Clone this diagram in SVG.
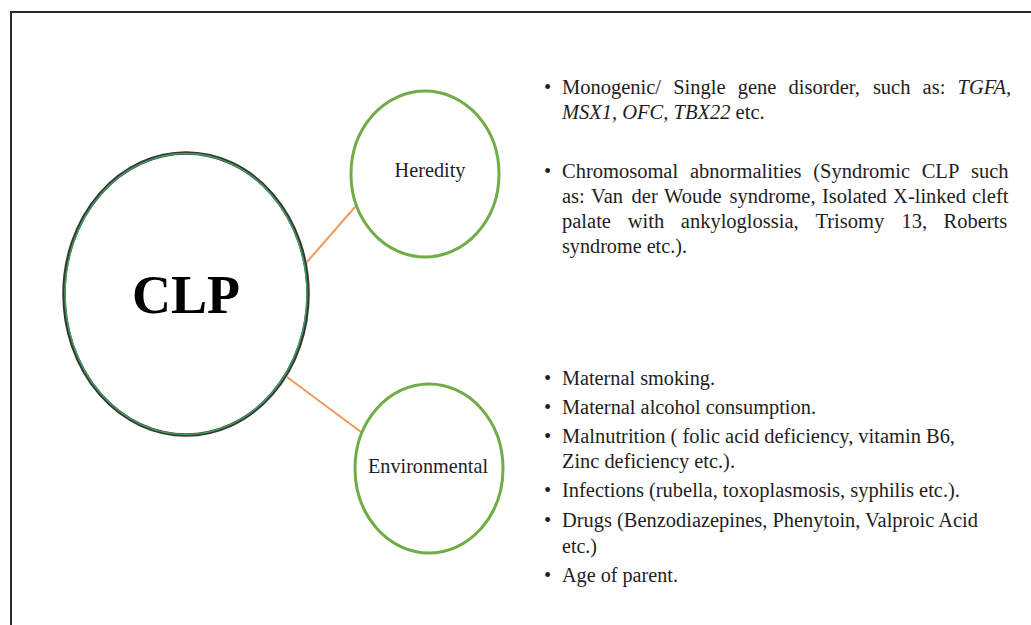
<svg xmlns="http://www.w3.org/2000/svg" width="1031" height="625" viewBox="0 0 1031 625">
<style>
.t{font-family:"Liberation Serif","Times New Roman",serif;fill:#1e1e1e}
.l{font-size:20.5px}
.i{font-style:italic}
.node{fill:#fff;stroke:#70ad47;stroke-width:3}
.conn{stroke:#ee9a5c;stroke-width:2;fill:none}
</style>
<rect x="0" y="0" width="1031" height="625" fill="#fff"/>
<g id="frame" fill="none" stroke="#2a2a2a" stroke-width="2">
<path d="M11 625 V12 H1031"/>
</g>
<g id="connectors">
<line class="conn" x1="307" y1="262" x2="355" y2="207"/>
<line class="conn" x1="287" y1="377" x2="361" y2="432"/>
</g>
<g id="node-clp">
<ellipse cx="186" cy="294" rx="122" ry="141" fill="#fff" stroke="#3a3535" stroke-width="3.5"/>
<ellipse cx="186" cy="294" rx="121" ry="140.5" fill="none" stroke="#3fa060" stroke-width="1.5"/>
<text class="t" x="186" y="313" text-anchor="middle" font-size="54" font-weight="bold" style="fill:#000">CLP</text>
</g>
<g id="node-heredity">
<ellipse class="node" cx="425" cy="174" rx="74" ry="83"/>
<text class="t" x="430" y="177" text-anchor="middle" font-size="21" textLength="71" lengthAdjust="spacingAndGlyphs">Heredity</text>
</g>
<g id="node-environmental">
<ellipse class="node" cx="429" cy="468.5" rx="74" ry="84.5"/>
<text class="t" x="428" y="473" text-anchor="middle" font-size="21" textLength="120" lengthAdjust="spacingAndGlyphs">Environmental</text>
</g>
<g id="heredity-list" class="t l">
<text x="544" y="94">•</text>
<text y="94"><tspan x="562">Monogenic/</tspan><tspan x="673.2">Single</tspan><tspan x="737.7">gene</tspan><tspan x="788.5">disorder,</tspan><tspan x="872.9">such</tspan><tspan x="922.6">as:</tspan><tspan x="957.5" class="i">TGFA,</tspan></text>
<text y="119"><tspan x="562" class="i">MSX1,</tspan><tspan x="622.3" class="i">OFC,</tspan><tspan x="673.5" class="i">TBX22</tspan><tspan x="735.6">etc.</tspan></text>
<text x="544" y="178">•</text>
<text y="178"><tspan x="562">Chromosomal</tspan><tspan x="689.9">abnormalities</tspan><tspan x="813.2">(Syndromic</tspan><tspan x="921.7">CLP</tspan><tspan x="971">such</tspan></text>
<text y="203"><tspan x="562">as:</tspan><tspan x="591.1">Van</tspan><tspan x="631.6">der</tspan><tspan x="664.1">Woude</tspan><tspan x="729.6">syndrome,</tspan><tspan x="821.9">Isolated</tspan><tspan x="893.1">X-linked</tspan><tspan x="972">cleft</tspan></text>
<text y="228"><tspan x="562">palate</tspan><tspan x="627.7">with</tspan><tspan x="680.8">ankyloglossia,</tspan><tspan x="815.4">Trisomy</tspan><tspan x="901.6">13,</tspan><tspan x="943.5">Roberts</tspan></text>
<text x="562" y="253" textLength="125" lengthAdjust="spacingAndGlyphs">syndrome etc.).</text>
</g>
<g id="environmental-list" class="t l">
<text x="544" y="385">•</text>
<text x="562" y="385" textLength="153" lengthAdjust="spacingAndGlyphs">Maternal smoking.</text>
<text x="544" y="414">•</text>
<text x="562" y="414" textLength="254" lengthAdjust="spacingAndGlyphs">Maternal alcohol consumption.</text>
<text x="544" y="443">•</text>
<text x="562" y="443" textLength="393" lengthAdjust="spacingAndGlyphs">Malnutrition ( folic acid deficiency, vitamin B6,</text>
<text x="562" y="468" textLength="173" lengthAdjust="spacingAndGlyphs">Zinc deficiency etc.).</text>
<text x="544" y="497">•</text>
<text x="562" y="497" textLength="398" lengthAdjust="spacingAndGlyphs">Infections (rubella, toxoplasmosis, syphilis etc.).</text>
<text x="544" y="527">•</text>
<text x="562" y="527" textLength="416" lengthAdjust="spacingAndGlyphs">Drugs (Benzodiazepines, Phenytoin, Valproic Acid</text>
<text x="562" y="553" textLength="35" lengthAdjust="spacingAndGlyphs">etc.)</text>
<text x="544" y="582">•</text>
<text x="562" y="582" textLength="116" lengthAdjust="spacingAndGlyphs">Age of parent.</text>
</g>
</svg>
